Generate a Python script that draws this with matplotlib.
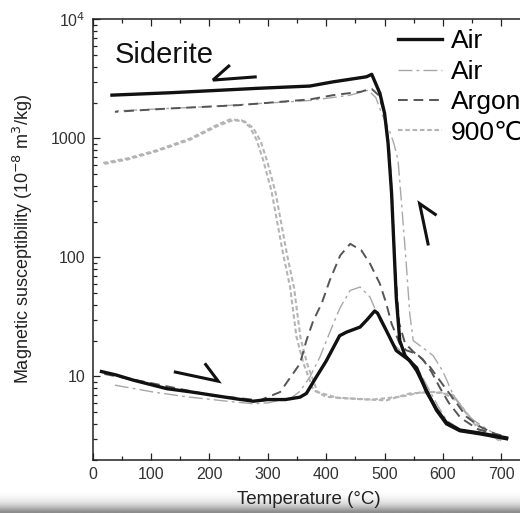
import numpy as np
import matplotlib
matplotlib.use("Agg")
import matplotlib.pyplot as plt
from matplotlib.lines import Line2D
from matplotlib.ticker import FixedLocator, FixedFormatter, NullFormatter

plt.rcParams['font.family'] = ['Liberation Sans', 'DejaVu Sans']

# ---------------- data (temperature in degC, susceptibility in 1e-8 m3/kg) ----------------
air1_heat_T = [15, 40, 70, 127, 170, 210, 245, 275, 300, 330, 355, 366, 383, 400, 423, 435,
               458, 470, 483, 488, 503, 520, 543, 555, 572, 589, 606, 629, 663, 709]
air1_heat_chi = [11, 10.3, 9.3, 7.9, 7.4, 6.9, 6.5, 6.2, 6.4, 6.4, 6.7, 7.2, 9.9, 13.5, 22, 23.6,
                 26, 30, 35.5, 34, 24.3, 16.5, 13.6, 11.2, 7.6, 5.2, 4.0, 3.5, 3.3, 3.0]

air1_cool_T = [709, 663, 629, 606, 589, 572, 555, 545, 535, 526, 520, 515, 512, 506, 500, 492,
               478, 469, 412, 372, 281, 224, 132, 33]
air1_cool_chi = [3.05, 3.35, 3.55, 4.1, 5.3, 7.4, 11.8, 13.2, 15, 20, 46, 160, 344, 906, 1619, 2385,
                 3450, 3290, 2985, 2750, 2630, 2545, 2415, 2307]

air2_heat_T = [38, 104, 161, 230, 275, 300, 340, 355, 372, 389, 412, 424, 441, 458, 475, 492,
               515, 535, 555, 572, 590, 606, 629, 663, 700]
air2_heat_chi = [8.45, 7.4, 6.75, 6.2, 5.9, 6.0, 6.6, 7.5, 9.9, 14.5, 27.7, 38, 52.8, 56.4, 46.5, 29.6,
                 18.8, 15, 12, 8.5, 5.8, 4.3, 3.6, 3.3, 3.0]

air2_cool_T = [700, 680, 652, 635, 617, 600, 583, 565, 549, 543, 537, 530, 523, 516, 509, 495,
               485, 472, 440, 372, 200, 40]
air2_cool_chi = [3.1, 3.5, 4.3, 5.2, 7.1, 11, 15, 17.5, 20, 34, 90, 250, 657, 900, 1135, 1620,
                 2200, 2540, 2300, 2080, 1850, 1700]

argon_heat_T = [20, 100, 200, 286, 321, 355, 366, 378, 392, 406, 424, 441, 460, 475, 492, 503,
                512, 526, 537, 555, 578, 600, 623, 640, 663, 700]
argon_heat_chi = [10.5, 8.8, 7.0, 6.3, 7.4, 12.8, 20, 29.6, 40.8, 64, 104, 130, 115, 88.7, 60, 40.8,
                  27.7, 18.8, 16.6, 15.5, 12, 8.5, 6.0, 4.6, 3.8, 3.1]

argon_cool_T = [700, 660, 630, 610, 595, 580, 565, 550, 535, 525, 518, 513, 507, 500, 490, 478,
                470, 460, 412, 372, 250, 130, 38]
argon_cool_chi = [3.2, 3.6, 4.5, 6.0, 8.0, 11, 14, 16, 19, 28, 80, 300, 900, 1600, 2300, 2600,
                  2560, 2465, 2307, 2124, 1900, 1780, 1671]

c900_a_T = [18, 60, 110, 167, 212, 235, 255, 269, 281, 292, 306, 326, 338, 349, 361, 378, 400,
            458, 503, 543, 583, 617, 640, 663, 697]
c900_a_chi = [622, 680, 796, 998, 1291, 1442, 1420, 1250, 966, 657, 366, 108, 56.8, 21.6, 12.9, 7.7,
              6.75, 6.45, 6.3, 7.2, 7.4, 7.0, 4.9, 3.5, 2.9]

c900_b_T = [20, 60, 110, 167, 214, 240, 260, 275, 288, 299, 313, 333, 345, 356, 368, 385, 420,
            480, 530, 570, 600, 625, 650, 675, 700]
c900_b_chi = [610, 665, 780, 975, 1270, 1420, 1390, 1220, 940, 640, 355, 105, 55, 21, 12.5, 7.4,
              6.6, 6.4, 6.8, 7.5, 7.3, 6.2, 4.3, 3.3, 2.9]

legend_labels = ["Air", "Air", "Argon", "900\u2103"]
x_ticks = [0, 100, 200, 300, 400, 500, 600, 700]
x_tick_labels = ["0", "100", "200", "300", "400", "500", "600", "700"]
y_ticks = [10, 100, 1000, 10000]
y_tick_labels = ["10", "100", "1000", "10$^4$"]

# annotation half-arrow marks (T, chi)
mark1_T = [281, 206, 235]
mark1_chi = [3289, 3087, 4130]
mark2_T = [139, 215, 192]
mark2_chi = [10.96, 9.13, 12.9]
mark3_T = [575, 560, 589]
mark3_chi = [126, 283, 226]

# ---------------- styles ----------------
c_black = "#111111"
c_argon = "#555555"
c_air2 = "#a8a8a8"
c_900 = "#b4b4b4"

W, H = 520, 513
fig = plt.figure(figsize=(W / 100, H / 100), dpi=100)
fig.patch.set_facecolor("white")

# bottom gradient band (screen artefact)
gax = fig.add_axes([0, 0, 1, 24 / H], zorder=0)
grad = np.array([0.55, 0.62, 0.70, 0.78, 0.84, 0.89, 0.92, 0.95, 0.97, 0.985, 0.995, 1.0])
gax.imshow(grad[:, None], cmap="gray", vmin=0, vmax=1, aspect="auto",
           extent=[0, 1, 0, 1], origin="lower", interpolation="bilinear")
gax.set_axis_off()

ax = fig.add_axes([92.7 / W, (H - 459.7) / H, 432 / W, (459.7 - 19.3) / H], zorder=1)
ax.patch.set_alpha(0)

ax.plot(c900_a_T, c900_a_chi, color=c_900, lw=1.5, dashes=(2.2, 1.3))
ax.plot(c900_b_T, c900_b_chi, color=c_900, lw=1.5, dashes=(2.2, 1.3))
ax.plot(air2_heat_T, air2_heat_chi, color=c_air2, lw=1.0, dashes=(10, 3, 2, 3))
ax.plot(air2_cool_T, air2_cool_chi, color=c_air2, lw=1.0, dashes=(10, 3, 2, 3))
ax.plot(argon_heat_T, argon_heat_chi, color=c_argon, lw=1.4, dashes=(5, 3))
ax.plot(argon_cool_T, argon_cool_chi, color=c_argon, lw=1.4, dashes=(5, 3))
ax.plot(air1_heat_T, air1_heat_chi, color=c_black, lw=2.4)
ax.plot(air1_cool_T, air1_cool_chi, color=c_black, lw=2.4)

for mt, mc in [(mark1_T, mark1_chi), (mark2_T, mark2_chi), (mark3_T, mark3_chi)]:
    ax.plot(mt, mc, color=c_black, lw=2.2, solid_capstyle="butt", solid_joinstyle="miter")

ax.set_yscale("log")
ax.set_xlim(0, 740)
ax.set_ylim(2, 1e4)

ax.xaxis.set_major_locator(FixedLocator(x_ticks))
ax.xaxis.set_major_formatter(FixedFormatter(x_tick_labels))
ax.xaxis.set_minor_locator(FixedLocator([t + 50 for t in x_ticks]))
ax.yaxis.set_major_locator(FixedLocator(y_ticks))
ax.yaxis.set_major_formatter(FixedFormatter(y_tick_labels))
ax.yaxis.set_minor_locator(FixedLocator([m * 10.0 ** e for e in range(0, 4) for m in range(2, 10)]))
ax.yaxis.set_minor_formatter(NullFormatter())

ax.tick_params(which="both", direction="in", top=True, right=False, color="#222222",
               labelcolor="#333333", labelsize=11.5, pad=5)
ax.tick_params(which="major", length=5, width=0.9)
ax.tick_params(which="minor", length=3, width=0.9)
for s in ax.spines.values():
    s.set_linewidth(1.1)
    s.set_color("#222222")

ax.set_xlabel("Temperature (\u00b0C)", fontsize=13.5, color="#222222", va="center")
ax.xaxis.set_label_coords(0.5, -40.3 / 440.4)
ax.set_ylabel("Magnetic susceptibility (10$^{-8}$ m$^3$/kg)", fontsize=13, color="#222222",
              va="center")
ax.yaxis.set_label_coords(-70.2 / 432, 0.5)

ax.text(38, 4291, "Siderite", fontsize=21, ha="left", va="baseline", color=c_black)

handles = [
    Line2D([], [], color=c_black, lw=2.4),
    Line2D([], [], color=c_air2, lw=1.0, dashes=(10, 3, 2, 3)),
    Line2D([], [], color=c_argon, lw=1.4, dashes=(5, 3)),
    Line2D([], [], color=c_900, lw=1.5, dashes=(2.2, 1.3)),
]
fig.legend(handles, legend_labels, loc="upper left",
           bbox_to_anchor=(397.7 / W, (H - 29.5) / H), bbox_transform=fig.transFigure,
           frameon=False, fontsize=19, handlelength=1.67, handletextpad=0.34,
           labelspacing=0.24, borderpad=0, borderaxespad=0)

fig.savefig("out.png", dpi=100, facecolor="white")
